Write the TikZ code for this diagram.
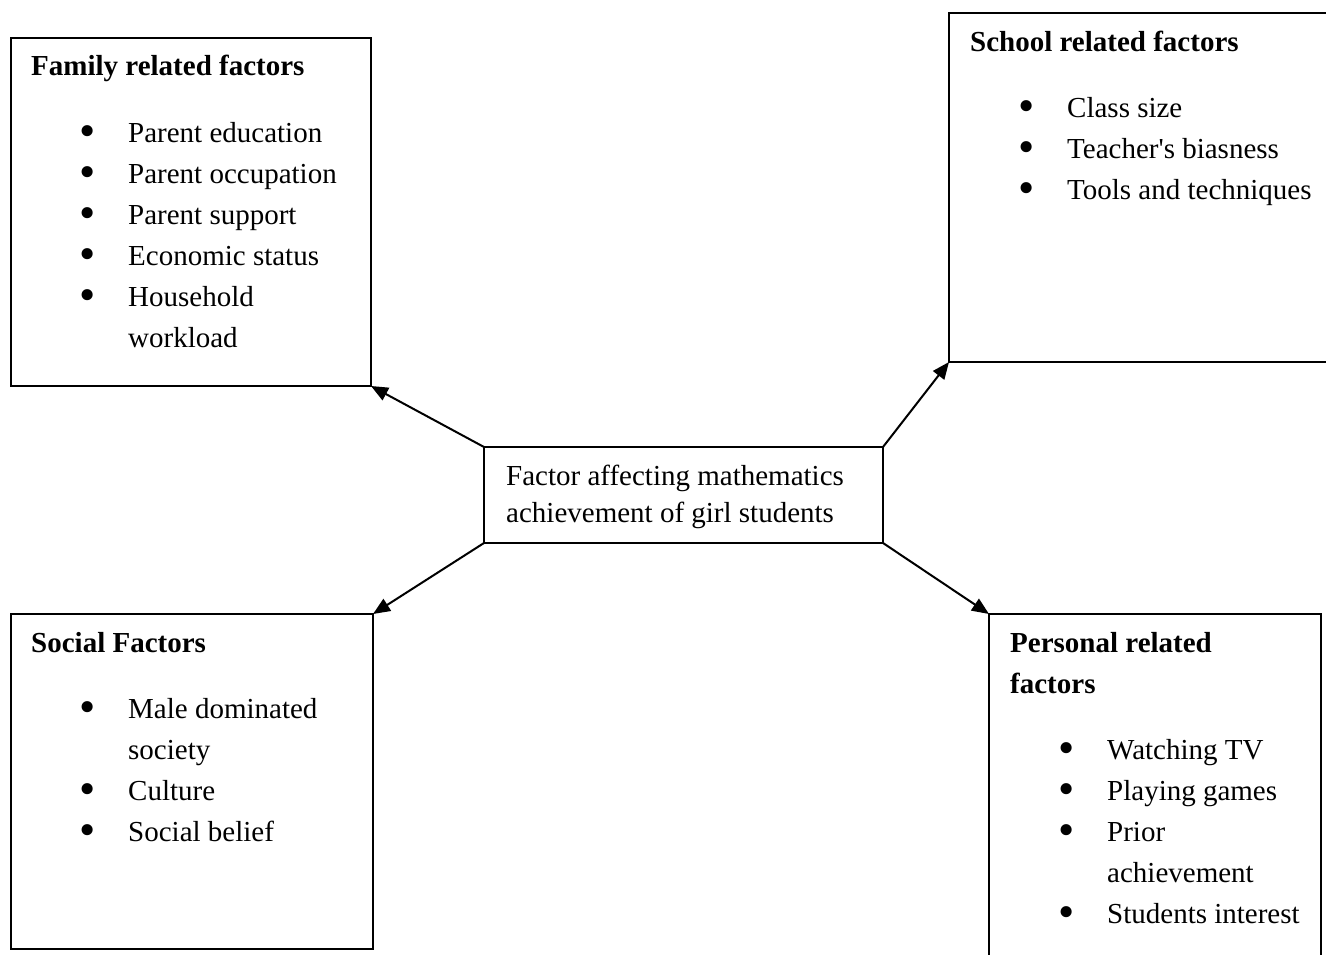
\documentclass[tikz,border=0pt]{standalone}
\usepackage{fontspec}
\setmainfont{Liberation Serif}
\usetikzlibrary{arrows.meta}

\newcommand{\topstrut}{\rule{0pt}{25pt}}
\newcommand{\bitem}[1]{\hspace*{48pt}\makebox[16pt]{\smash{\raisebox{-4.5pt}{\scalebox{1.6}{\textbullet}}}}\hspace*{33pt}#1}
\newcommand{\bcont}[1]{\hspace*{97pt}#1}

\begin{document}
\begin{tikzpicture}[x=1pt, y=-1pt,
    factorbox/.style={rectangle, draw=black, line width=2pt, inner sep=0pt, outer sep=0pt, anchor=north west},
    listtext/.style={anchor=north west, align=left, inner sep=0pt, font=\fontsize{29pt}{41pt}\selectfont},
    linkarrow/.style={-{Triangle[length=17pt, width=14pt]}, line width=2pt}]
            \clip (0,0) rectangle (1326,955);
            \fill[white] (0,0) rectangle (1326,955);
            \node[factorbox, minimum width=399pt, minimum height=96pt] (centerBox) at (484,447) {};
            \node[factorbox, minimum width=360pt, minimum height=348pt] (familyBox) at (11,38) {};
            \node[factorbox, minimum width=400pt, minimum height=349pt] (schoolBox) at (949,13) {};
            \node[factorbox, minimum width=362pt, minimum height=335pt] (socialBox) at (11,614) {};
            \node[factorbox, minimum width=332pt, minimum height=360pt] (personalBox) at (989,614) {};
            % text blocks, top strut = baseline - 25pt
            \node[listtext, font=\fontsize{29pt}{37pt}\selectfont] (centerText) at (506,460) {\topstrut Factor affecting mathematics\\achievement of girl students};
            \node[listtext] (familyText) at (31,50) {\topstrut\textbf{Family related factors}\\[26pt]
                \bitem{Parent education}\\ \bitem{Parent occupation}\\ \bitem{Parent support}\\
                \bitem{Economic status}\\ \bitem{Household}\\ \bcont{workload}};
            \node[listtext] (schoolText) at (970,26) {\topstrut\textbf{School related factors}\\[25pt]
                \bitem{Class size}\\ \bitem{Teacher\textquotesingle s biasness}\\ \bitem{Tools and techniques}};
            \node[listtext] (socialText) at (31,627) {\topstrut\textbf{Social Factors}\\[25pt]
                \bitem{Male dominated}\\ \bcont{society}\\ \bitem{Culture}\\ \bitem{Social belief}};
            \node[listtext] (personalText) at (1010,627) {\topstrut\textbf{Personal related}\\ \textbf{factors}\\[25pt]
                \bitem{Watching TV}\\ \bitem{Playing games}\\ \bitem{Prior}\\ \bcont{achievement}\\
                \bitem{Students interest}};
            \draw[linkarrow] (centerBox.north west) -- (familyBox.south east);
            \draw[linkarrow] (centerBox.north east) -- (schoolBox.south west);
            \draw[linkarrow] (centerBox.south west) -- (socialBox.north east);
            \draw[linkarrow] (centerBox.south east) -- (personalBox.north west);
        \end{tikzpicture}
\end{document}
